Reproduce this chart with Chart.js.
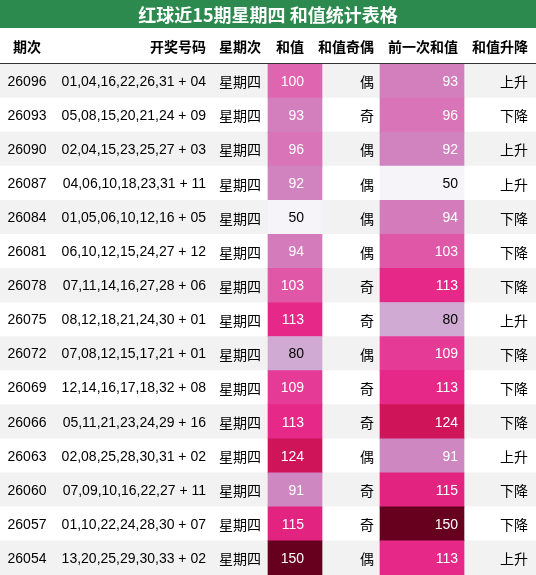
<!DOCTYPE html>
<html><head><meta charset="utf-8">
<script src="https://cdn.jsdelivr.net/npm/chart.js@4"></script>
<style>
body{margin:0;background:#fff}
#box{position:relative;width:536px;height:575px}
</style></head><body>
<div id="box"><canvas id="c"></canvas></div>
<script>
const periods = ["26096","26093","26090","26087","26084","26081","26078","26075","26072","26069","26066","26063","26060","26057","26054"];
const numbers = ["01,04,16,22,26,31 + 04","05,08,15,20,21,24 + 09","02,04,15,23,25,27 + 03","04,06,10,18,23,31 + 11","01,05,06,10,12,16 + 05","06,10,12,15,24,27 + 12","07,11,14,16,27,28 + 06","08,12,18,21,24,30 + 01","07,08,12,15,17,21 + 01","12,14,16,17,18,32 + 08","05,11,21,23,24,29 + 16","02,08,25,28,30,31 + 02","07,09,10,16,22,27 + 11","01,10,22,24,28,30 + 07","13,20,25,29,30,33 + 02"];
const sums = [100,93,96,92,50,94,103,113,80,109,113,124,91,115,150];
const parity = ["偶","奇","偶","偶","偶","偶","奇","奇","偶","奇","奇","偶","奇","奇","偶"];
const prevSums = [93,96,92,50,94,103,113,80,109,113,124,91,115,150,113];
const trend = ["上升","下降","上升","上升","下降","下降","下降","上升","下降","下降","下降","上升","下降","下降","上升"];
const headers = ["期次","开奖号码","星期次","和值","和值奇偶","前一次和值","和值升降"];
const title = "红球近15期星期四 和值统计表格";

// column spans in x-units (x scale 0..536)
const sumCol = [268, 322], prevCol = [380, 464];

const purd = ["#f7f4f9","#e7e1ef","#d4b9da","#c994c7","#df65b0","#e7298a","#ce1256","#980043","#67001f"];
function hex(h){return [1,3,5].map(i=>parseInt(h.substr(i,2),16));}
function colorFor(v){
  let t = Math.max(0, Math.min(1, (v-50)/100)) * (purd.length-1);
  let i = Math.min(Math.floor(t), purd.length-2), f = t-i;
  let a = hex(purd[i]), b = hex(purd[i+1]);
  return "rgb(" + a.map((x,k)=>Math.round(x+(b[k]-x)*f)).join(",") + ")";
}
const txtCol = v => v >= 85 ? "#fff" : "#000";

const CJK = "'Noto Sans CJK SC', sans-serif";
const NUM = "'Liberation Sans', Arial, sans-serif";

const tablePlugin = {
  id: "table",
  afterDatasetsDraw(chart) {
    const ctx = chart.ctx, x = chart.scales.x, y = chart.scales.y;
    ctx.save();
    // title
    ctx.fillStyle = "#2d8a4e";
    ctx.fillRect(0, 0, 536, 28);
    ctx.fillStyle = "#fff";
    ctx.font = "bold 18px " + CJK;
    ctx.textAlign = "center"; ctx.textBaseline = "middle";
    ctx.fillText(title, 268, 15);
    // header
    ctx.fillStyle = "#000";
    ctx.font = "bold 14px " + CJK;
    const hx = [27, 206, 240, 304, 374, 458, 528];
    const ha = ["center","right","center","right","right","right","right"];
    headers.forEach((h, i) => { ctx.textAlign = ha[i]; ctx.fillText(h, x.getPixelForValue(hx[i]), 47); });
    ctx.fillStyle = "#333";
    ctx.fillRect(0, 63, 536, 1);
    // rows
    periods.forEach((p, i) => {
      const py = y.getPixelForValue(i) + 1;
      ctx.fillStyle = "#000";
      ctx.font = "14px " + NUM;
      ctx.textAlign = "center"; ctx.fillText(p, x.getPixelForValue(27), py);
      ctx.textAlign = "right"; ctx.fillText(numbers[i], x.getPixelForValue(206), py);
      ctx.font = "14px " + CJK;
      ctx.textAlign = "center"; ctx.fillText("星期四", x.getPixelForValue(240), py);
      ctx.textAlign = "right";
      ctx.fillText(parity[i], x.getPixelForValue(374), py);
      ctx.fillText(trend[i], x.getPixelForValue(528), py);
      ctx.font = "14px " + NUM;
      ctx.fillStyle = txtCol(sums[i]); ctx.fillText(sums[i], x.getPixelForValue(304), py);
      ctx.fillStyle = txtCol(prevSums[i]); ctx.fillText(prevSums[i], x.getPixelForValue(458), py);
    });
    ctx.restore();
  }
};

new Chart(document.getElementById("c"), {
  type: "bar",
  data: {
    labels: periods,
    datasets: [
      { data: periods.map(() => sumCol), backgroundColor: sums.map(colorFor), order: 1 },
      { data: periods.map(() => prevCol), backgroundColor: prevSums.map(colorFor), order: 1 },
      { data: periods.map(() => [0, 536]), backgroundColor: periods.map((_, i) => i % 2 ? "#ffffff" : "#f2f2f2"), order: 5 }
    ]
  },
  options: {
    indexAxis: "y",
    responsive: true, maintainAspectRatio: false, animation: false,
    layout: { padding: { top: 64, left: 0, right: 0, bottom: 0 } },
    datasets: { bar: { grouped: false, barPercentage: 1, categoryPercentage: 1, borderWidth: 0 } },
    scales: {
      x: { type: "linear", min: 0, max: 536, display: false },
      y: { type: "category", display: false }
    },
    plugins: { legend: { display: false }, tooltip: { enabled: false } }
  },
  plugins: [tablePlugin]
});
</script>
</body></html>
